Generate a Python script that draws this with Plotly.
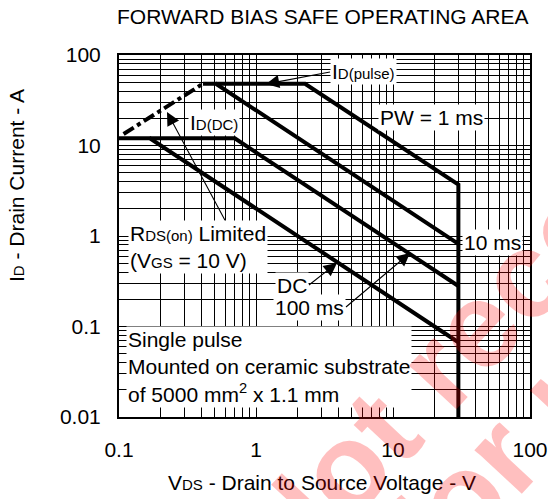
import plotly.graph_objects as go

# ---- data ----
# DC limit: flat at I_D(DC) then power-limited slope down to 30 V
dc_v = [0.1, 0.168, 30]
dc_i = [12, 12, 0.067]
# 100 ms
ms100_v = [0.168, 0.70, 30]
ms100_i = [12, 12, 0.28]
# 10 ms (starts on the I_D(pulse) plateau)
ms10_v = [0.41, 0.51, 30]
ms10_i = [48, 48, 0.82]
# 1 ms, then the V_DSS vertical limit at 30 V
ms1_v = [0.51, 2.28, 30, 30]
ms1_i = [48, 48, 3.7, 0.01]
# R_DS(on) limited (dashed)
rds_v = [0.108, 0.40]
rds_i = [13.4, 47]

x_ticks = [0.1, 1, 10, 100]
x_labels = ["0.1", "1", "10", "100"]
y_ticks = [0.01, 0.1, 1, 10, 100]
y_labels = ["0.01", "0.1", "1", "10", "100"]

# ---- geometry helpers (pixel -> paper) ----
W, H = 548, 499
L, R, T, B = 119, 18, 55, 82
PW, PH = W - L - R, H - T - B


def px(xp):
    return (xp - L) / PW


def py(yp):
    return (H - B - yp) / PH


FONT = "Liberation Sans, Arial, sans-serif"
FS = 21
SS = 15


def small(t):
    return f"<span style='font-size:{SS}px'>{t}</span>"


fig = go.Figure()
line_style = dict(color="black", width=4)
for xs, ys in [(dc_v, dc_i), (ms100_v, ms100_i), (ms10_v, ms10_i), (ms1_v, ms1_i)]:
    fig.add_trace(go.Scatter(x=xs, y=ys, mode="lines", line=line_style,
                             showlegend=False, hoverinfo="skip", cliponaxis=False))
fig.add_trace(go.Scatter(x=rds_v, y=rds_i, mode="lines",
                         line=dict(color="black", width=4, dash="dashdot"),
                         showlegend=False, hoverinfo="skip"))

minor_x = [m * 10 ** e for e in (-1, 0, 1) for m in range(2, 10)]
minor_y = [m * 10 ** e for e in (-2, -1, 0, 1) for m in range(2, 10)]

axis_common = dict(type="log", showline=True, mirror=True, linecolor="black",
                   linewidth=2, showgrid=True, gridcolor="black", gridwidth=1,
                   zeroline=False, ticks="",
                   tickfont=dict(family=FONT, size=FS, color="black"))
fig.update_xaxes(range=[-1, 2], tickvals=x_ticks, ticktext=x_labels,
                 minor=dict(tickvals=minor_x, showgrid=True, gridcolor="black",
                            gridwidth=1, ticks=""),
                 ticklabelstandoff=13, **axis_common)
fig.update_yaxes(range=[-2, 2], tickvals=y_ticks, ticktext=y_labels,
                 minor=dict(tickvals=minor_y, showgrid=True, gridcolor="black",
                            gridwidth=1, ticks=""),
                 ticklabelstandoff=12, **axis_common)

ann = []


def text(t, xp, yp, xanchor="left", bg="white", align="left", size=FS, pad=1):
    ann.append(dict(text=t, x=px(xp), y=py(yp), xref="paper", yref="paper",
                    xanchor=xanchor, yanchor="middle", showarrow=False,
                    align=align, bgcolor=bg, borderpad=pad,
                    font=dict(family=FONT, size=size, color="black")))


def label_arrow(t, tail, tip, xanchor):
    # text anchored at the arrow tail, arrow pointing to tip
    ann.append(dict(text=t, x=px(tip[0]), y=py(tip[1]), xref="paper", yref="paper",
                    ax=tail[0] - tip[0], ay=tail[1] - tip[1], showarrow=True,
                    xanchor=xanchor, yanchor="middle", bgcolor="white", borderpad=1,
                    font=dict(family=FONT, size=FS, color="black"),
                    arrowhead=2, arrowsize=2.4, arrowwidth=1.1, arrowcolor="black",
                    standoff=0, startstandoff=0))


def arrow(tail, tip):
    ann.append(dict(text="", x=px(tip[0]), y=py(tip[1]), xref="paper", yref="paper",
                    ax=tail[0] - tip[0], ay=tail[1] - tip[1], showarrow=True,
                    arrowhead=2, arrowsize=2.4, arrowwidth=1.1, arrowcolor="black",
                    standoff=0, startstandoff=0))


# titles
text("FORWARD BIAS SAFE OPERATING AREA", 323, 17, xanchor="center", bg=None)
text(f"V{small('DS')} - Drain to Source Voltage - V", 322, 482, xanchor="center", bg=None)
ann.append(dict(text=f"I{small('D')} - Drain Current - A", x=px(16), y=py(185),
                xref="paper", yref="paper", textangle=-90, showarrow=False,
                xanchor="center", yanchor="middle",
                font=dict(family=FONT, size=FS, color="black")))

# arrows
arrow((227, 224), (167, 112))

# labels on the chart
label_arrow(f"I{small('D(pulse)')}", (330, 72), (266, 84), "left")
text(f"I{small('D(DC)')}", 188, 123)
text("PW = 1 ms", 378, 117)
text("10 ms", 462, 242)
text(f"R{small('DS(on)')} Limited<br>(V{small('GS')} = 10 V)", 128, 247)
label_arrow("DC", (309, 285), (337, 263), "right")
label_arrow("100 ms", (346, 307), (410, 253), "right")
text("Single pulse<br>Mounted on ceramic substrate<br>of 5000 mm<sup>2</sup> x 1.1 mm",
     126, 367)

# watermark
wm_color = "rgba(255,0,0,0.25)"
ann.append(dict(text="Not recommended", x=px(623), y=py(169), xref="paper", yref="paper",
                showarrow=False, textangle=-47, xanchor="center", yanchor="middle",
                font=dict(family=FONT, size=122, color=wm_color, weight="bold")))
ann.append(dict(text="for new design", x=px(700), y=py(241), xref="paper", yref="paper",
                showarrow=False, textangle=-47, xanchor="center", yanchor="middle",
                font=dict(family=FONT, size=122, color=wm_color, weight="bold")))

fig.update_layout(width=W, height=H, margin=dict(l=L, r=R, t=T, b=B, autoexpand=False),
                  paper_bgcolor="white", plot_bgcolor="white",
                  annotations=ann, showlegend=False)

fig.write_html("out.html", config={"displayModeBar": False},
               post_script="document.body.style.margin='0';document.body.style.overflow='hidden';")
